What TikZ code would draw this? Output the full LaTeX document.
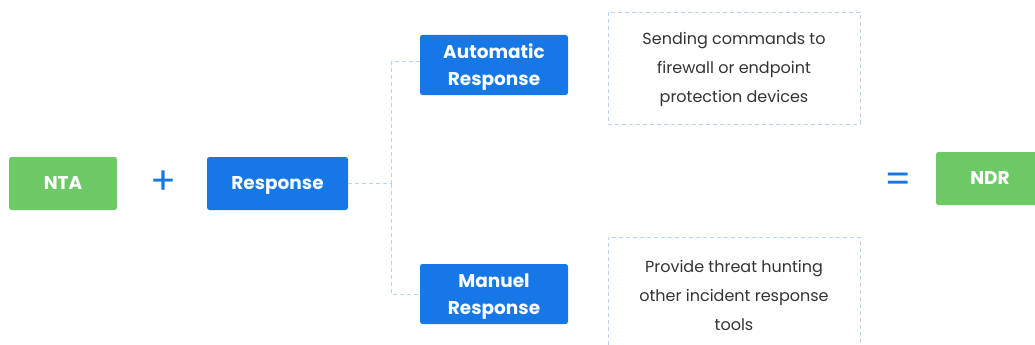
\documentclass[tikz,border=0pt]{standalone}
\usepackage{fontspec}
\setmainfont{Poppins}
\definecolor{ngreen}{HTML}{6DC966}
\definecolor{nblue}{HTML}{1677E6}
\definecolor{ndash}{HTML}{B5D3F3}
\definecolor{ntext}{HTML}{333333}
\begin{document}
\begin{tikzpicture}[x=1pt,y=-1pt,
  gbox/.style={fill=ngreen,rounded corners=2.5pt,text=white,font=\bfseries\fontsize{18.5}{20}\selectfont,align=center,text depth=0pt},
  bbox/.style={fill=nblue,rounded corners=2.5pt,text=white,font=\bfseries\fontsize{18.5}{27}\selectfont,align=center,text depth=0pt},
  dline/.style={draw=ndash,dash pattern=on 4pt off 3pt,line width=0.9pt},
  body/.style={text=ntext,font=\fontsize{16}{29}\selectfont,align=center},
  sym/.style={text=nblue,font=\fontsize{38}{38}\selectfont}]
\useasboundingbox (0,0) rectangle (1035,345);
\begin{scope}
\clip (0,0) rectangle (1035,345);
\node[gbox,minimum width=108pt,minimum height=53pt] (nta) at (63,183.5) {NTA};
\node[sym] (plus) at (163,183) {+};
\node[bbox,minimum width=141pt,minimum height=53pt] (resp) at (277.5,183.5) {Response};
\node[bbox,minimum width=148pt,minimum height=60pt] (auto) at (494,65) {Automatic\\Response};
\node[bbox,minimum width=148pt,minimum height=60pt] (man) at (494,294) {Manuel\\Response};
\coordinate (j) at (391,183.5);
\draw[dline] (resp.east) -- (j);
\draw[dline] (j) |- ([yshift=4pt]auto.west);
\draw[dline] (j) |- (man.west);
\node[dline,minimum width=252pt,minimum height=112pt] (t1) at (734,68) {};
\node[body] (t1t) at (734,69.5) {Sending commands to\\firewall or endpoint\\protection devices};
\node[dline,minimum width=252pt,minimum height=120pt] (t2) at (734,297) {};
\node[body,anchor=north] (t2t) at (734,257) {Provide threat hunting\\other incident response\\tools};
\node[sym] (eq) at (898,183) {=};
\node[gbox,minimum width=108pt,minimum height=53pt] (ndr) at (990,178.5) {NDR};
\end{scope}
\end{tikzpicture}
\end{document}
